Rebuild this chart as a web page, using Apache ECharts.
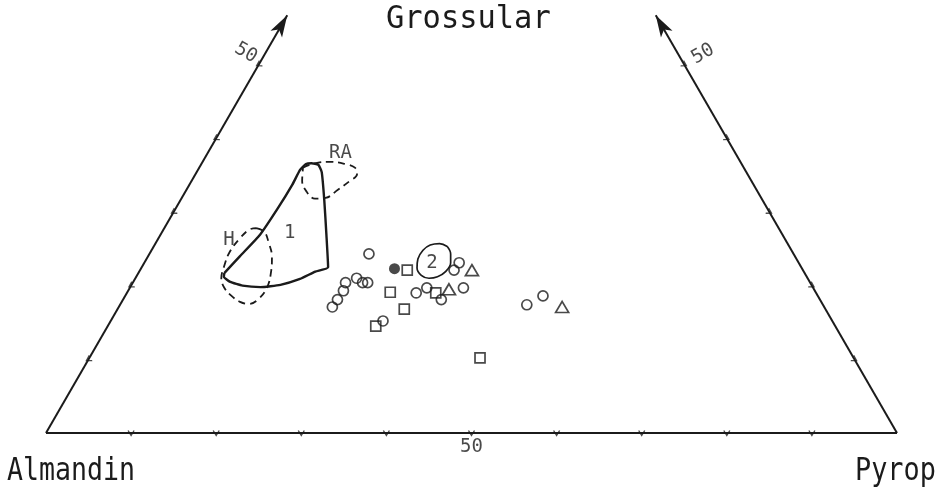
<!DOCTYPE html>
<html>
<head>
<meta charset="utf-8">
<script src="https://cdn.jsdelivr.net/npm/echarts@6/dist/echarts.min.js"></script>
<style>
  html, body { margin: 0; padding: 0; background: #ffffff; }
  #chart { width: 942px; height: 494px; }
</style>
</head>
<body>
<div id="chart"></div>
<script>
// Garnet end-member triangle Almandin – Pyrop – Grossular.
// All compositions are given as [Pyrop %, Grossular %]; Almandin is the remainder.

const endMembers = ['Almandin', 'Pyrop', 'Grossular'];
const baseTicks = [10, 20, 30, 40, 50, 60, 70, 80, 90];
const sideTicks = [10, 20, 30, 40, 50];
const labelledTick = 50;
const sideTop = 56.7;            // Grossular % where the side axes end

// analysed garnets
const circles = [
  [25.8, 24.3], [26.0, 21.0], [27.0, 20.4], [27.6, 20.4], [25.0, 20.4],
  [25.3, 19.3], [25.2, 18.1], [25.1, 17.1], [34.0, 19.0], [32.0, 15.2],
  [37.0, 23.1], [36.9, 22.1], [34.9, 19.7], [37.4, 18.1], [39.2, 19.7],
  [47.8, 17.4], [49.1, 18.6]
];
const filledCircles = [[29.8, 22.3]];
const squares = [
  [31.4, 22.1], [30.9, 19.1], [33.7, 16.8], [31.5, 14.5], [36.3, 19.0], [45.9, 10.2]
];
const triangles = [[39.0, 22.1], [37.6, 19.5], [52.1, 17.1]];

// composition fields
const field1 = [
  [10.1, 21.7], [10.8, 24.0], [11.7, 26.9], [12.0, 30.5], [12.1, 33.7], [12.0, 35.7],
  [12.3, 36.5], [12.9, 36.6], [13.8, 36.4], [14.7, 35.4], [16.9, 31.6], [19.5, 26.9],
  [21.9, 22.5], [20.7, 21.9], [19.4, 20.9], [17.5, 20.1], [15.3, 19.8], [13.1, 20.0],
  [11.4, 20.5], [10.3, 21.2], [10.1, 21.7]
];
const fieldH = [
  [10.8, 27.8], [12.0, 27.3], [13.2, 25.9], [14.6, 23.9], [15.5, 21.9], [16.1, 19.8],
  [15.9, 18.2], [15.1, 17.5], [13.9, 17.8], [12.5, 18.6], [11.1, 19.7], [10.1, 21.0],
  [9.6, 22.7], [9.3, 24.6], [9.6, 26.5], [10.1, 27.6], [10.8, 27.8]
];
const fieldRA = [
  [12.2, 36.0], [13.3, 36.6], [15.0, 36.8], [16.9, 36.5], [18.3, 36.0], [19.0, 35.1],
  [18.6, 34.2], [17.8, 33.0], [16.9, 31.9], [15.7, 31.8], [14.3, 32.7], [13.0, 34.2],
  [12.2, 36.0]
];
const field2 = [
  [34.5, 25.3], [35.4, 24.3], [36.0, 23.1], [36.0, 21.9], [35.4, 21.2], [34.5, 21.0],
  [33.4, 21.4], [32.4, 22.4], [31.9, 23.6], [31.9, 24.8], [32.4, 25.5], [33.4, 25.7],
  [34.5, 25.3]
];
const fieldNames = ['1', 'H', 'RA', '2'];
const fieldNameAt = [[15.1, 27.1], [8.4, 26.2], [15.6, 38.0], [33.8, 23.1]];

const INK = '#1b1b1b';
const FAMILY = '"DejaVu Sans Mono", monospace';
const H = Math.sqrt(3) / 2;
// ternary composition -> plane (Almandin corner at origin, side length 100)
const toXY = ([p, g]) => [p + g / 2, g * H];

const chart = echarts.init(document.getElementById('chart'), null, { renderer: 'canvas' });

const outline = (name, pts, width, type, smooth) => ({
  name, type: 'line', data: pts.map(toXY), showSymbol: false, smooth,
  lineStyle: { color: INK, width, type }, silent: true, z: 3
});

const tickSeries = (pts, rotate) => ({
  type: 'scatter', data: pts.map(toXY),
  symbol: 'path://M0,0L4,7L8,0', symbolSize: [6, 5], symbolRotate: rotate,
  itemStyle: { color: 'rgba(0,0,0,0)', borderColor: INK, borderWidth: 1.2 },
  silent: true, z: 4
});

const markerStyle = { color: 'rgba(255,255,255,0)', borderColor: INK, borderWidth: 1.7 };
const textStyle = { fontFamily: FAMILY, fontSize: 19, color: INK };

chart.setOption({
  animation: false,
  backgroundColor: '#ffffff',
  grid: { left: 46, right: 45, top: 7.5, bottom: 61 },
  xAxis: { type: 'value', min: 0, max: 100, show: false },
  yAxis: { type: 'value', min: 0, max: 50, show: false },
  graphic: [
    { type: 'text', left: 7, top: 456, scaleX: 0.83,
      style: { text: endMembers[0], font: '32px ' + FAMILY, fill: INK } },
    { type: 'text', left: 855, top: 456, scaleX: 0.84,
      style: { text: endMembers[1], font: '32px ' + FAMILY, fill: INK } },
    { type: 'text', left: 386, top: 4, scaleX: 0.95,
      style: { text: endMembers[2], font: '32px ' + FAMILY, fill: INK } }
  ],
  series: [
    {
      name: 'frame', type: 'line', data: [toXY([0, 0]), toXY([100, 0])],
      showSymbol: false, lineStyle: { color: INK, width: 2 }, silent: true, z: 2,
      markLine: {
        silent: true, symbol: ['none', 'arrow'], symbolSize: [10, 22],
        label: { show: false }, lineStyle: { color: INK, width: 2, type: 'solid' },
        data: [
          [{ coord: toXY([0, 0]) }, { coord: toXY([0, sideTop]) }],
          [{ coord: toXY([100, 0]) }, { coord: toXY([100 - sideTop, sideTop]) }]
        ]
      }
    },
    tickSeries(baseTicks.map(p => [p, 0]), 0),
    tickSeries(sideTicks.map(g => [0, g]), -60),
    tickSeries(sideTicks.map(g => [100 - g, g]), 60),
    {
      name: 'tick labels', type: 'scatter', symbolSize: 0, silent: true,
      label: Object.assign({ show: true, position: 'inside', formatter: () => String(labelledTick) }, textStyle),
      data: [
        { value: toXY([labelledTick, 0]), label: { offset: [0, 14] } },
        // offsets of the rotated labels are given in the label's own rotated frame
        { value: toXY([0, labelledTick]), label: { offset: [-17, -3.5], rotate: -30 } },
        { value: toXY([100 - labelledTick, labelledTick]), label: { offset: [21.5, 0.3], rotate: 30 } }
      ]
    },
    outline('field 1', field1, 2.4, 'solid', 0.15),
    outline('field H', fieldH, 1.8, [7, 5], 0.4),
    outline('field RA', fieldRA, 1.8, [7, 5], 0.4),
    outline('field 2', field2, 1.7, 'solid', 0.4),
    {
      name: 'field names', type: 'scatter', symbolSize: 0, silent: true,
      data: fieldNames.map((n, i) => ({ value: toXY(fieldNameAt[i]), name: n })),
      label: Object.assign({ show: true, position: 'inside', formatter: p => p.name }, textStyle)
    },
    { name: 'circles', type: 'scatter', data: circles.map(toXY), symbol: 'circle', symbolSize: 10, itemStyle: markerStyle, z: 5 },
    { name: 'filled', type: 'scatter', data: filledCircles.map(toXY), symbol: 'circle', symbolSize: 11, itemStyle: { color: INK }, z: 5 },
    { name: 'squares', type: 'scatter', data: squares.map(toXY), symbol: 'rect', symbolSize: 10, itemStyle: markerStyle, z: 5 },
    { name: 'triangles', type: 'scatter', data: triangles.map(toXY), symbol: 'triangle', symbolSize: [13, 11], itemStyle: markerStyle, z: 5 }
  ]
});
</script>
</body>
</html>
